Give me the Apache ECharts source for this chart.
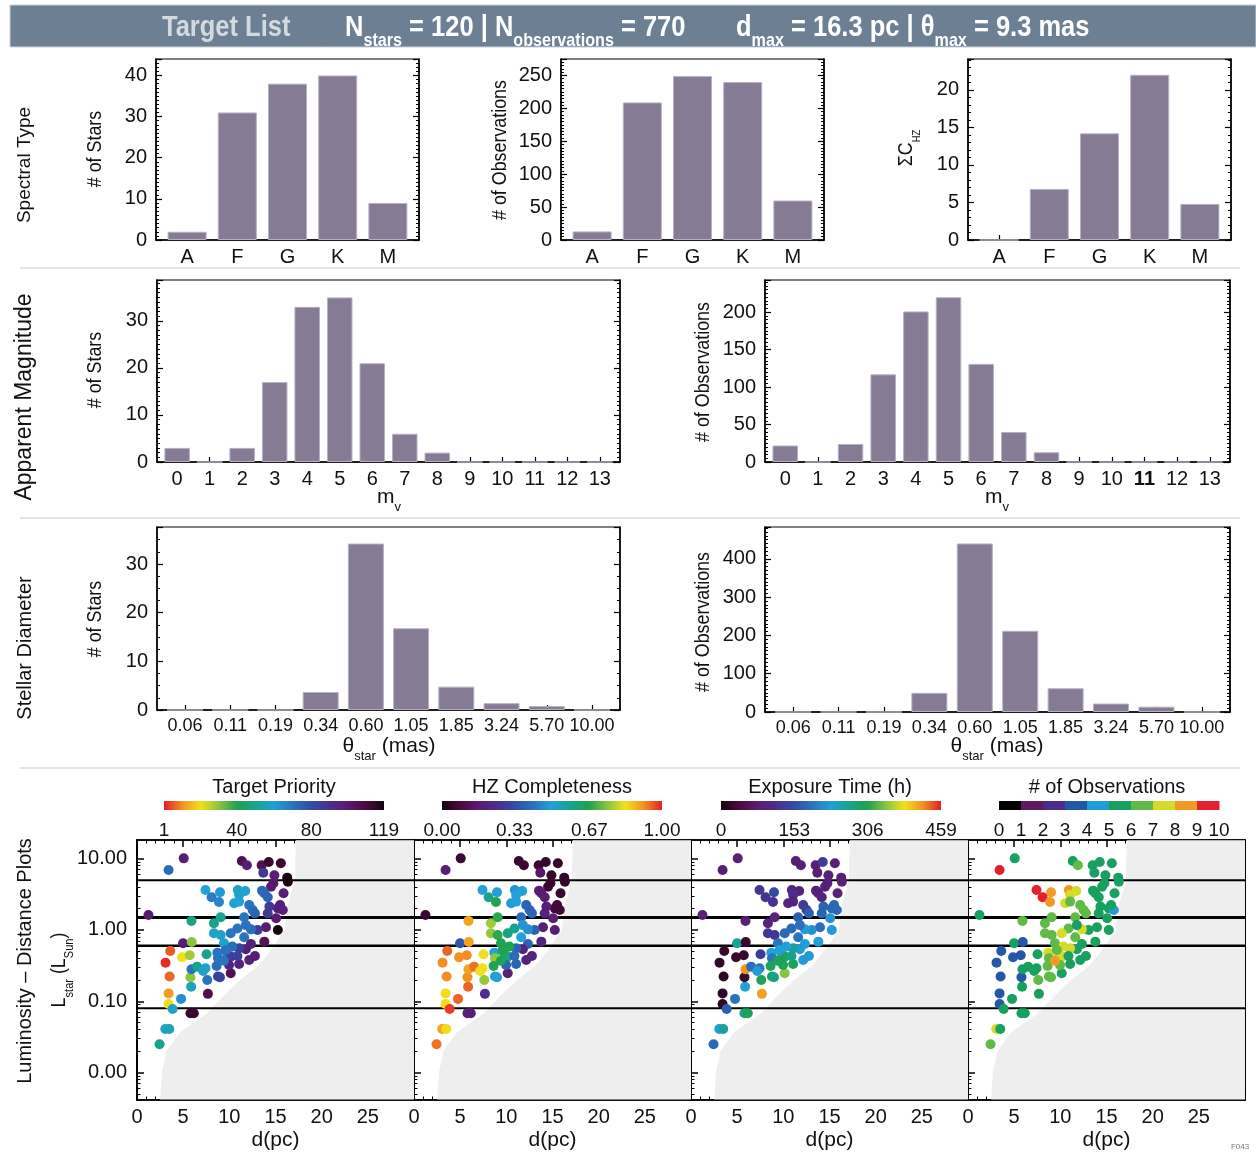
<!DOCTYPE html>
<html>
<head>
<meta charset="utf-8">
<title>Target List</title>
<script src="https://cdn.jsdelivr.net/npm/echarts@6/dist/echarts.min.js"></script>
<style>
  html, body { margin: 0; padding: 0; background: #ffffff; }
  #chart { width: 1256px; height: 1154px; }
</style>
</head>
<body>
<div id="chart"></div>
<script>
// ---------------- histogram data ----------------
const spectralTypes = ['A', 'F', 'G', 'K', 'M'];
const starsPerType = [2, 31, 38, 40, 9];
const obsPerType = [13, 209, 249, 240, 60];
const hzPerType = [0, 6.8, 14.2, 22, 4.8];

const magBins = ['0', '1', '2', '3', '4', '5', '6', '7', '8', '9', '10', '11', '12', '13'];
const starsPerMag = [3, 0, 3, 17, 33, 35, 21, 6, 2, 0, 0, 0, 0, 0];
const obsPerMag = [22, 0, 24, 117, 201, 220, 131, 40, 13, 0, 0, 0, 0, 0];

const diamBins = ['0.06', '0.11', '0.19', '0.34', '0.60', '1.05', '1.85', '3.24', '5.70', '10.00'];
const starsPerDiam = [0, 0, 0, 3.7, 34.2, 16.8, 4.8, 1.4, 0.8, 0];
const obsPerDiam = [0, 0, 0, 50, 440, 212, 62, 22, 14, 0];

// ---------------- target stars: distance (pc), luminosity (Lsun) and attributes ----------------
const starDist = [5.06, 3.42, 11.35, 11.90, 13.50, 14.27, 15.58, 13.68, 14.88, 16.27, 16.34, 14.77, 14.52, 15.87,
  7.42, 8.99, 8.08, 8.88, 10.92, 11.72, 11.06, 10.52, 11.06, 13.54, 13.79, 14.16,
  12.15, 12.52, 12.77, 11.61, 14.16, 15.25, 15.79, 15.07, 1.24, 5.90, 8.33, 9.06,
  15.25, 13.97, 13.06, 12.34, 10.88, 10.15, 11.61, 8.33, 9.06, 4.99, 5.93, 13.79, 12.34, 9.42,
  3.60, 4.88, 5.71, 3.09, 3.53, 3.42, 3.42, 3.86, 4.77, 5.86, 5.79, 5.90, 6.51, 7.42, 7.17, 7.61, 7.68, 5.79, 6.15, 3.06, 3.49, 2.44,
  7.53, 8.70, 8.77, 8.62, 8.77, 8.99, 10.15, 9.79, 10.15, 9.97, 11.06, 12.15, 12.77, 11.79, 11.06, 10.33, 9.61, 9.42, 10.88,
  11.79, 14.34, 15.50];
const starLum = [10.1, 6.94, 9.29, 8.07, 8.07, 8.99, 8.61, 6.37, 5.84, 5.42, 4.76, 4.51, 4.05, 3.27,
  3.64, 3.38, 2.87, 2.47, 3.64, 3.52, 3.10, 2.37, 2.50, 3.56, 3.27, 2.87,
  2.24, 1.91, 1.71, 1.51, 1.71, 2.01, 1.91, 1.46, 1.62, 1.34, 1.24, 1.51,
  1.00, 1.09, 1.00, 1.02, 1.05, 0.898, 0.789, 0.898, 0.851, 0.650, 0.679, 0.686, 0.636, 0.650,
  0.508, 0.414, 0.441, 0.348, 0.222, 0.129, 0.0917, 0.078, 0.108, 0.160, 0.217, 0.281, 0.306, 0.290, 0.266, 0.199, 0.127, 0.0678, 0.0678, 0.0409, 0.0409, 0.0249,
  0.456, 0.481, 0.401, 0.313, 0.222, 0.217, 0.247, 0.456, 0.423, 0.323, 0.334, 0.380, 0.432, 0.536, 0.553, 0.584, 0.524, 0.371, 0.432,
  1.17, 2.13, 2.24];
const starPriority = [99, 72, 105, 97, 106, 112, 112, 86, 98, 119, 118, 100, 100, 98,
  60, 62, 68, 66, 58, 60, 58, 58, 60, 72, 72, 74,
  70, 72, 74, 70, 86, 98, 97, 100, 100, 48, 50, 50,
  119, 98, 85, 72, 70, 70, 70, 58, 58, 98, 30, 104, 96, 58,
  6, 21, 28, 2, 7, 12, 20, 58, 64, 56, 30, 70, 50, 58, 58, 70, 106, 113, 112, 58, 56, 50,
  50, 70, 70, 72, 84, 84, 105, 70, 84, 95, 96, 96, 98, 96, 84, 72, 70, 70, 84,
  70, 86, 98];
const starHZ = [0.06, 0.17, 0.06, 0.06, 0.06, 0.05, 0.05, 0.15, 0.05, 0.05, 0.05, 0.06, 0.06, 0.06,
  0.5, 0.5, 0.58, 0.67, 0.48, 0.5, 0.5, 0.49, 0.5, 0.17, 0.17, 0.17,
  0.38, 0.38, 0.38, 0.4, 0.2, 0.07, 0.07, 0.18, 0.06, 0.9, 0.77, 0.68,
  0.18, 0.18, 0.38, 0.47, 0.58, 0.6, 0.5, 0.76, 0.68, 0.35, 0.9, 0.2, 0.38, 0.66,
  0.95, 0.92, 0.92, 0.92, 0.92, 0.84, 0.84, 0.98, 0.95, 0.95, 0.92, 0.9, 0.94, 0.83, 0.83, 0.76, 0.25, 0.18, 0.18, 0.9, 0.84, 0.94,
  0.83, 0.5, 0.76, 0.67, 0.5, 0.5, 0.18, 0.67, 0.6, 0.38, 0.38, 0.2, 0.2, 0.2, 0.38, 0.66, 0.66, 0.66, 0.4,
  0.48, 0.18, 0.07];
const starExpTime = [80, 80, 85, 85, 80, 130, 85, 80, 85, 85, 80, 80, 85, 90,
  125, 150, 120, 120, 95, 90, 115, 95, 95, 85, 85, 90,
  130, 135, 170, 170, 175, 180, 180, 220, 85, 85, 90, 90,
  225, 185, 215, 225, 180, 180, 190, 125, 125, 265, 25, 230, 230, 190,
  25, 25, 25, 20, 20, 20, 20, 170, 190, 230, 25, 420, 185, 190, 225, 300, 415, 270, 300, 230, 260, 180,
  130, 230, 190, 300, 300, 270, 345, 230, 300, 300, 300, 225, 225, 225, 260, 230, 230, 300, 270,
  185, 175, 180];
const starNObs = [5, 9, 5, 6, 5, 5, 5, 5, 5, 5, 5, 5, 5, 5,
  9, 8, 9, 8, 8, 7, 7, 7, 6, 5, 5, 5,
  6, 6, 6, 6, 5, 5, 4, 5, 5, 6, 6, 6,
  5, 5, 5, 7, 6, 7, 6, 6, 6, 5, 3, 5, 5, 6,
  3, 3, 3, 3, 3, 3, 3, 5, 5, 5, 3, 5, 5, 5, 5, 6, 5, 5, 5, 7, 5, 6,
  5, 7, 6, 6, 6, 6, 5, 7, 7, 6, 5, 5, 5, 5, 7, 7, 6, 8, 5,
  5, 5, 5];

// outline of the background star population in the d-L plane
const bgCloudDist = [17.2, 17.1, 16.3, 16.0, 14.5, 13.1, 11.2, 9.4, 7.6, 4.7, 3.2, 2.7, 2.5, 30, 30];
const bgCloudLum = [18.2, 5.0, 2.13, 1.0, 0.52, 0.31, 0.2, 0.12, 0.068, 0.037, 0.02, 0.01, 0.0042, 0.0042, 18.2];

// luminosity boundaries between spectral classes
const classBoundLum = [5.0, 1.5, 0.6, 0.08];

// tick labels
const lumTickValues = [0.01, 0.1, 1, 10];
const lumTickLabels = ['0.00', '0.10', '1.00', '10.00'];
const priorityTicks = [1, 40, 80, 119];
const hzTicks = [0, 0.33, 0.67, 1];
const expTicks = [0, 153, 306, 459];
const nobsTicks = [0, 1, 2, 3, 4, 5, 6, 7, 8, 9, 10];

// ---------------- styling ----------------
const SANS = "'Liberation Sans Narrow','Arial Narrow','Liberation Sans',Arial,Helvetica,sans-serif";
const REGULAR = "'Liberation Sans',Arial,Helvetica,sans-serif";
const INK = '#111111';
const BAR_FILL = '#867b95';
const BAR_EDGE = '#b7afc2';
const CAT_PAD = 0.62;
const CONDENSE = 0.85;
const boundWidths = [2, 3, 2.5, 2];
const rainbow = ['#14040e', '#4a0b3c', '#5a1c72', '#4b2e8e', '#2f4ea5', '#2a74bf', '#22a0d9',
  '#17a38e', '#1fa24f', '#86c440', '#f2e21a', '#f39322', '#e31f26'];
const rainbowRev = rainbow.slice().reverse();
const nobsColors = ['#000000', '#5e1a5c', '#4b2c8c', '#2457a7', '#1f9dd9', '#17a060', '#5fba46', '#d6db2a', '#f39a25', '#e3202c'];

const LUM_LOG_MIN = -2.385;
const LUM_LOG_MAX = 1.262;
const lumMajorLog = lumTickValues.map(Math.log10);
const lumMinorLog = [];
for (let e = -3; e <= 1; e++) {
  for (let k = 2; k <= 9; k++) {
    const v = e + Math.log10(k);
    if (v > LUM_LOG_MIN && v < LUM_LOG_MAX) lumMinorLog.push(v);
  }
}
function lumLabel(v) {
  const i = lumMajorLog.findIndex(t => Math.abs(t - v) < 1e-6);
  return i >= 0 ? lumTickLabels[i] : '';
}

const option = {
  animation: false,
  backgroundColor: '#ffffff',
  textStyle: { fontFamily: SANS, color: INK },
  grid: [], xAxis: [], yAxis: [], series: [], visualMap: [], graphic: []
};

function stroke(w) { return { color: '#000000', width: w }; }

// ---------------- histogram panels ----------------
function addHistogram(p) {
  const g = option.grid.length;
  option.grid.push({ left: p.rect[0], top: p.rect[1], width: p.rect[2], height: p.rect[3],
    show: true, borderColor: '#000', borderWidth: 1.2, backgroundColor: 'rgba(0,0,0,0)', outerBoundsMode: 'none' });
  const n = p.cats.length;
  const pos = p.cats.map((_, i) => i);
  const xi = option.xAxis.length;
  option.xAxis.push({
    gridIndex: g, type: 'value', position: 'bottom', min: -CAT_PAD, max: n - 1 + CAT_PAD,
    splitLine: { show: false },
    axisLine: { show: true, onZero: false, lineStyle: stroke(1.5) },
    axisTick: { show: true, inside: true, length: 5, customValues: pos, lineStyle: stroke(1.2) },
    axisLabel: {
      show: true, customValues: pos, margin: 7, fontSize: p.xFont || 20, fontFamily: SANS, color: INK, hideOverlap: false,
      formatter: v => {
        const s = p.cats[Math.round(v)];
        return (p.bold && p.bold.indexOf(s) >= 0) ? '{b|' + s + '}' : s;
      },
      rich: { b: { fontWeight: 'bold', fontSize: p.xFont || 20, fontFamily: SANS, color: INK } }
    }
  });
  const yi = option.yAxis.length;
  const yBase = {
    gridIndex: g, type: 'value', min: 0, max: p.yMax, interval: p.yStep,
    splitLine: { show: false }, minorSplitLine: { show: false },
    axisLine: { show: true, onZero: false, lineStyle: stroke(1.5) },
    axisTick: { show: true, inside: true, length: 6, lineStyle: stroke(1.2) },
    minorTick: { show: true, splitNumber: p.yMinor, length: 3, lineStyle: stroke(1) }
  };
  option.yAxis.push(Object.assign({}, yBase, { position: 'left',
    axisLabel: { show: true, showMaxLabel: false, margin: 9, fontSize: 20, fontFamily: SANS, color: INK } }));
  option.yAxis.push(Object.assign({}, yBase, { position: 'right', axisLabel: { show: false } }));
  option.series.push({
    type: 'bar', xAxisIndex: xi, yAxisIndex: yi, barWidth: p.barW, silent: true,
    data: p.vals.map((v, i) => [i, v]),
    itemStyle: { color: BAR_FILL, borderColor: BAR_EDGE, borderWidth: 1 }
  });
}

addHistogram({ rect: [156, 59, 263, 181], cats: spectralTypes, vals: starsPerType, yMax: 44, yStep: 10, yMinor: 10, barW: 39 });
addHistogram({ rect: [561, 59, 263, 181], cats: spectralTypes, vals: obsPerType, yMax: 275, yStep: 50, yMinor: 10, barW: 39 });
addHistogram({ rect: [968, 59, 263, 181], cats: spectralTypes, vals: hzPerType, yMax: 24.1, yStep: 5, yMinor: 5, barW: 39 });
addHistogram({ rect: [157, 280, 463, 182], cats: magBins, vals: starsPerMag, yMax: 38.7, yStep: 10, yMinor: 10, barW: 25.5 });
addHistogram({ rect: [765, 280, 465, 182], cats: magBins, vals: obsPerMag, yMax: 243, yStep: 50, yMinor: 10, barW: 25.5, bold: ['11'] });
addHistogram({ rect: [157, 527, 463, 183], cats: diamBins, vals: starsPerDiam, yMax: 37.6, yStep: 10, yMinor: 4, barW: 36, xFont: 18 });
addHistogram({ rect: [765, 527, 465, 185], cats: diamBins, vals: obsPerDiam, yMax: 483, yStep: 100, yMinor: 10, barW: 36, xFont: 18 });

// ---------------- luminosity - distance panels ----------------
const starRows = starDist.map((d, i) => [d, Math.log10(starLum[i]), starPriority[i], starHZ[i], starExpTime[i], starNObs[i]]);
const LUM_LEFT = [137, 414, 691, 968];
const scatterSeriesIdx = [];

function addLumPanel(k) {
  const g = option.grid.length;
  option.grid.push({ left: LUM_LEFT[k], top: 840, width: 277, height: 260, show: true,
    borderColor: '#000', borderWidth: 1.5, backgroundColor: 'rgba(0,0,0,0)', outerBoundsMode: 'none' });
  const xBase = {
    gridIndex: g, type: 'value', min: 0, max: 30, interval: 5,
    splitLine: { show: false }, minorSplitLine: { show: false },
    axisLine: { show: true, onZero: false, lineStyle: stroke(1.5) },
    axisTick: { show: true, inside: true, length: 7, lineStyle: stroke(1.5) },
    minorTick: { show: true, splitNumber: 5, length: 3.5, lineStyle: stroke(1) }
  };
  const xi = option.xAxis.length;
  option.xAxis.push(Object.assign({}, xBase, { position: 'bottom',
    axisLabel: { show: true, showMaxLabel: false, margin: 7, fontSize: 20, fontFamily: SANS, color: INK } }));
  option.xAxis.push(Object.assign({}, xBase, { position: 'top', axisLabel: { show: false } }));

  const yBase = {
    gridIndex: g, type: 'value', min: LUM_LOG_MIN, max: LUM_LOG_MAX,
    splitLine: { show: false },
    axisLine: { show: true, onZero: false, lineStyle: stroke(1.5) }
  };
  const majorTick = { show: true, inside: true, length: 7, customValues: lumMajorLog, lineStyle: stroke(1.5) };
  const minorTick = { show: true, inside: true, length: 3.5, customValues: lumMinorLog, lineStyle: stroke(1) };
  const yi = option.yAxis.length;
  option.yAxis.push(Object.assign({}, yBase, { position: 'left', axisTick: majorTick,
    axisLabel: { show: k === 0, customValues: lumMajorLog, formatter: lumLabel, margin: 10, fontSize: 20, fontFamily: SANS, color: INK } }));
  option.yAxis.push(Object.assign({}, yBase, { position: 'left', axisTick: minorTick, axisLabel: { show: false } }));
  option.yAxis.push(Object.assign({}, yBase, { position: 'right', axisTick: majorTick, axisLabel: { show: false } }));
  option.yAxis.push(Object.assign({}, yBase, { position: 'right', axisTick: minorTick, axisLabel: { show: false } }));

  // background population
  option.series.push({
    type: 'custom', xAxisIndex: xi, yAxisIndex: yi, silent: true, z: 1, data: [[0, 0]],
    renderItem: (params, api) => ({
      type: 'polygon',
      shape: { points: bgCloudDist.map((d, i) => api.coord([d, Math.log10(bgCloudLum[i])])) },
      style: { fill: '#eeeeee' }
    })
  });
  // class boundaries
  option.series.push({
    type: 'custom', xAxisIndex: xi, yAxisIndex: yi, silent: true, z: 2,
    data: classBoundLum.map((L, i) => [Math.log10(L), i]),
    renderItem: (params, api) => {
      const y = api.value(0);
      const a = api.coord([0, y]);
      const b = api.coord([30, y]);
      return { type: 'line', shape: { x1: a[0], y1: a[1], x2: b[0], y2: b[1] },
        style: { stroke: '#000', lineWidth: boundWidths[api.value(1)] } };
    }
  });
  scatterSeriesIdx.push(option.series.length);
  option.series.push({
    type: 'scatter', xAxisIndex: xi, yAxisIndex: yi, silent: true, z: 3,
    symbol: 'circle', symbolSize: 10, data: starRows,
    itemStyle: { opacity: 1 }
  });
}
for (let k = 0; k < 4; k++) addLumPanel(k);

option.visualMap.push(
  { type: 'continuous', show: false, seriesIndex: scatterSeriesIdx[0], dimension: 2, min: 1, max: 119, inRange: { color: rainbowRev } },
  { type: 'continuous', show: false, seriesIndex: scatterSeriesIdx[1], dimension: 3, min: 0, max: 1, inRange: { color: rainbow } },
  { type: 'continuous', show: false, seriesIndex: scatterSeriesIdx[2], dimension: 4, min: 0, max: 459, inRange: { color: rainbow } },
  { type: 'piecewise', show: false, seriesIndex: scatterSeriesIdx[3], dimension: 5,
    pieces: nobsColors.map((c, i) => ({ value: i, color: c })) }
);

// ---------------- colour bars ----------------
function addColorBar(left, min, max, ticks, fmt, palette, discrete) {
  const g = option.grid.length;
  option.grid.push({ left: left, top: 801, width: 220, height: 9, show: false, outerBoundsMode: 'none' });
  const xi = option.xAxis.length;
  option.xAxis.push({
    gridIndex: g, type: 'value', min: min, max: max, position: 'bottom',
    axisLine: { show: false }, axisTick: { show: false }, splitLine: { show: false },
    axisLabel: { show: true, customValues: ticks, formatter: fmt, margin: 11, fontSize: 19, fontFamily: SANS, color: INK, hideOverlap: false }
  });
  const yi = option.yAxis.length;
  option.yAxis.push({ gridIndex: g, type: 'value', min: 0, max: 1, show: false });
  if (discrete) {
    option.series.push({
      type: 'custom', xAxisIndex: xi, yAxisIndex: yi, silent: true,
      data: palette.map((c, i) => [i, i + 1, i]),
      renderItem: (params, api) => {
        const a = api.coord([api.value(0), 0]);
        const b = api.coord([api.value(1), 1]);
        return { type: 'rect', shape: { x: a[0], y: b[1], width: b[0] - a[0] + 0.5, height: a[1] - b[1] },
          style: { fill: palette[api.value(2)] } };
      }
    });
  } else {
    const stops = palette.map((c, i) => ({ offset: i / (palette.length - 1), color: c }));
    option.series.push({
      type: 'custom', xAxisIndex: xi, yAxisIndex: yi, silent: true, data: [[min, max]],
      renderItem: (params, api) => {
        const a = api.coord([api.value(0), 0]);
        const b = api.coord([api.value(1), 1]);
        return { type: 'rect', shape: { x: a[0], y: b[1], width: b[0] - a[0], height: a[1] - b[1] },
          style: { fill: new echarts.graphic.LinearGradient(0, 0, 1, 0, stops) } };
      }
    });
  }
}
addColorBar(164, 1, 119, priorityTicks, v => String(v), rainbowRev, false);
addColorBar(442, 0, 1, hzTicks, v => v.toFixed(2), rainbow, false);
addColorBar(721, 0, 459, expTicks, v => String(v), rainbow, false);
addColorBar(999, 0, 10, nobsTicks, v => String(v), nobsColors, true);

// ---------------- text and decorations ----------------
function text(x, y, str, o) {
  o = o || {};
  return {
    type: 'text', x: x, y: y, rotation: o.rot || 0, scaleX: o.sx || 1, silent: true, z: 100,
    style: {
      text: str, rich: o.rich,
      fontSize: o.size || 21, fontFamily: o.family || SANS, fontWeight: o.weight || 'normal',
      fill: o.fill || INK, align: o.align || 'center', verticalAlign: o.va || 'middle'
    }
  };
}
const subRich = {
  m: { fontSize: 21, fontFamily: SANS, lineHeight: 26, verticalAlign: 'top', fill: INK },
  s: { fontSize: 13, fontFamily: SANS, lineHeight: 13, verticalAlign: 'top', padding: [14, 0, 0, 0], fill: INK }
};
const UP = Math.PI / 2;

// title bar
option.graphic.push({ type: 'rect', silent: true, z: 90, shape: { x: 10, y: 5, width: 1246, height: 42 },
  style: { fill: '#6d8093', stroke: '#c9d1d9', lineWidth: 1 } });
const titleRich = {
  g: { fontSize: 30, fontFamily: SANS, fontWeight: 'bold', lineHeight: 34, verticalAlign: 'top', fill: '#d4d9df' },
  m: { fontSize: 30, fontFamily: SANS, fontWeight: 'bold', lineHeight: 34, verticalAlign: 'top', fill: '#ffffff' },
  s: { fontSize: 19, fontFamily: SANS, fontWeight: 'bold', lineHeight: 19, verticalAlign: 'top', padding: [18, 0, 0, 0], fill: '#ffffff' }
};
option.graphic.push(text(162, 13, '{g|Target List}', { rich: titleRich, align: 'left', va: 'top', sx: CONDENSE }));
option.graphic.push(text(345, 13, '{m|N}{s|stars}{m| = 120 | N}{s|observations}{m| = 770}', { rich: titleRich, align: 'left', va: 'top', sx: CONDENSE }));
option.graphic.push(text(736, 13, '{m|d}{s|max}{m| = 16.3 pc | θ}{s|max}{m| = 9.3 mas}', { rich: titleRich, align: 'left', va: 'top', sx: CONDENSE }));

// row separators
[268, 518, 768].forEach(y => {
  option.graphic.push({ type: 'line', silent: true, z: 90, shape: { x1: 20, y1: y, x2: 1240, y2: y },
    style: { stroke: '#dadada', lineWidth: 1.5 } });
});

// row labels
[['Spectral Type', 165, 19], ['Apparent Magnitude', 397, 23], ['Stellar Diameter', 648, 20], ['Luminosity – Distance Plots', 961, 20]]
  .forEach(r => option.graphic.push(text(25, r[1], r[0], { rot: UP, family: REGULAR, size: r[2] })));

// y-axis titles
[[95, 149, '# of Stars'], [500, 150, '# of Observations'], [95, 370, '# of Stars'], [703, 372, '# of Observations'],
 [95, 619, '# of Stars'], [703, 622, '# of Observations']]
  .forEach(t => option.graphic.push(text(t[0], t[1], t[2], { rot: UP, sx: CONDENSE })));
option.graphic.push(text(909, 148, '{m|ΣC}{s|HZ}', { rot: UP, sx: CONDENSE, rich: {
  m: subRich.m, s: { fontSize: 11, fontFamily: SANS, lineHeight: 11, verticalAlign: 'top', padding: [15, 0, 0, 0], fill: INK } } }));
option.graphic.push(text(62, 970, '{m|L}{s|star}{m| (L}{s|Sun}{m|)}', { rot: UP, sx: CONDENSE, rich: subRich }));

// x-axis titles
[389, 997].forEach(x => option.graphic.push(text(x, 500, '{m|m}{s|v}', { rich: subRich })));
[389, 997].forEach(x => option.graphic.push(text(x, 749, '{m|θ}{s|star}{m| (mas)}', { rich: subRich })));
LUM_LEFT.forEach(x => option.graphic.push(text(x + 138.5, 1140, 'd(pc)')));

// colour bar titles
[[274, 'Target Priority'], [552, 'HZ Completeness'], [830, 'Exposure Time (h)'], [1107, '# of Observations']]
  .forEach(t => option.graphic.push(text(t[0], 787, t[1], { family: REGULAR, size: 20 })));

option.graphic.push(text(1240, 1147, 'F043', { size: 8, fill: '#777', family: REGULAR }));

const chart = echarts.init(document.getElementById('chart'), null, { renderer: 'canvas', width: 1256, height: 1154 });
chart.setOption(option);
</script>
</body>
</html>
